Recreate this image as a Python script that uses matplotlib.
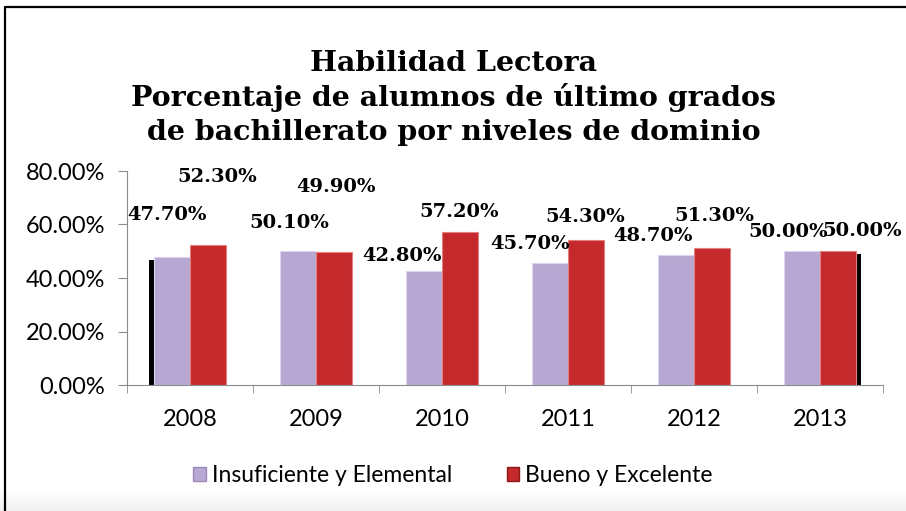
import numpy as np
import matplotlib
matplotlib.use('Agg')
import matplotlib.pyplot as plt
from matplotlib.patches import Patch
from matplotlib.lines import Line2D

years = ['2008', '2009', '2010', '2011', '2012', '2013']
insuficiente = [47.70, 50.10, 42.80, 45.70, 48.70, 50.00]
bueno = [52.30, 49.90, 57.20, 54.30, 51.30, 50.00]
series_names = ['Insuficiente y Elemental', 'Bueno y Excelente']
title_lines = ['Habilidad Lectora',
               'Porcentaje de alumnos de último grados',
               'de bachillerato por niveles de dominio']

# label offsets in pixels from the bar top (placement in the original is irregular)
off_ins = [(-5, 42), (-8, 28), (-22, 15), (-20, 19), (-23, 19), (-14, 19)]
off_bue = [(9, 68), (2, 65), (-1, 20), (-1, 23), (2, 32), (24, 20)]

purple = '#b7a8d3'
red = '#c42a2c'
serif = ['DejaVu Serif']
sans = ['Lato', 'DejaVu Sans']

fig = plt.figure(figsize=(9.06, 5.11), dpi=100)
fig.patch.set_facecolor('white')

# light gray band at the bottom
grad = np.linspace(0, 1, 40).reshape(-1, 1)
bax = fig.add_axes([0, 0, 1, 22 / 511])
bax.imshow(grad, aspect='auto', cmap='Greys', vmin=0, vmax=9, extent=[0, 1, 0, 1])
bax.axis('off')

# black frame (left and top)
fig.add_artist(Line2D([5 / 906, 5 / 906, 1], [0, 1 - 7 / 511, 1 - 7 / 511],
                      transform=fig.transFigure, color='black', lw=1.6))

ax = fig.add_axes([127 / 906, 1 - 385 / 511, 756 / 906, 214 / 511])
x = np.arange(len(years))
w = 0.285
# dark shadows seen on a few bars
ax.bar(x[0] - 0.145 - 0.04, insuficiente[0] - 1, w, color='black', zorder=1)
ax.bar(x[5] + 0.145 + 0.04, bueno[5] - 1, w, color='black', zorder=1)
ax.bar(x - 0.145, insuficiente, w, color=purple, edgecolor='#ddd3ee', lw=0.8, zorder=2)
ax.bar(x + 0.145, bueno, w, color=red, edgecolor='#e58080', lw=0.8, zorder=2)

for i in range(len(years)):
    ax.annotate('%.2f%%' % insuficiente[i], (x[i] - 0.145, insuficiente[i]),
                xytext=off_ins[i], textcoords='offset pixels', ha='center', va='center',
                fontsize=14, fontweight='bold', family=serif, zorder=3)
    ax.annotate('%.2f%%' % bueno[i], (x[i] + 0.145, bueno[i]),
                xytext=off_bue[i], textcoords='offset pixels', ha='center', va='center',
                fontsize=14, fontweight='bold', family=serif, zorder=3)

ax.set_xlim(-0.5, len(years) - 0.5)
ax.set_ylim(0, 80)
ax.set_yticks([0, 20, 40, 60, 80])
ax.set_yticklabels(['%.2f%%' % v for v in [0, 20, 40, 60, 80]])
ax.set_xticks(x)
ax.set_xticklabels(years)
ax.set_xticks(np.arange(-0.5, len(years)), minor=True)
ax.tick_params(axis='x', which='major', length=0, pad=17)
ax.tick_params(axis='x', which='minor', length=6, color='#8c8c8c')
ax.tick_params(axis='y', length=6.5, color='#8c8c8c', pad=9)
for lab in ax.get_xticklabels() + ax.get_yticklabels():
    lab.set_family(sans)
    lab.set_fontsize(17)
for s in ['top', 'right']:
    ax.spines[s].set_visible(False)
for s in ['left', 'bottom']:
    ax.spines[s].set_color('#8c8c8c')
ax.set_facecolor('none')

for line, base in zip(title_lines, [71, 106, 140]):
    fig.text(0.501, 1 - base / 511, line, ha='center', va='baseline', fontsize=20.5,
             fontweight='bold', family=serif)

handles = [Patch(facecolor=purple, edgecolor='#9a8ab8'), Patch(facecolor=red, edgecolor='#901818')]
fig.legend(handles, series_names, loc='center', bbox_to_anchor=(0.5, 1 - 476 / 511),
           ncol=2, frameon=False, handlelength=0.55, handleheight=0.55,
           handletextpad=0.25, columnspacing=2.4, prop={'family': sans, 'size': 16.5})

fig.savefig('out.png', dpi=100)
